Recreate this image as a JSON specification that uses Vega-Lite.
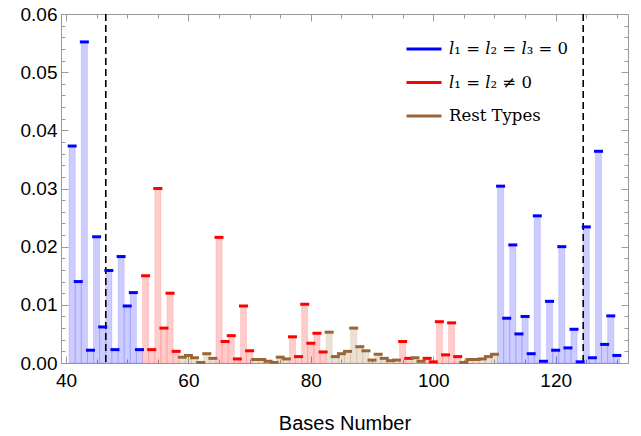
{
  "$schema": "https://vega.github.io/schema/vega-lite/v6.json",
  "width": 567,
  "height": 349,
  "autosize": {"type": "none"},
  "padding": {"left": 61, "top": 14, "right": 13, "bottom": 73},
  "config": {
    "view": {"stroke": "#9a9a9a", "strokeWidth": 1},
    "axis": {
      "labelFont": "Liberation Sans",
      "labelFontSize": 19,
      "labelColor": "#000000",
      "titleFont": "Liberation Sans",
      "titleFontSize": 20,
      "titleFontWeight": "normal",
      "titleColor": "#000000",
      "domainColor": "#9a9a9a",
      "tickColor": "#9a9a9a",
      "grid": false
    }
  },
  "datasets": {
    "density": [
      {"base": 41, "value": 0.0373, "type": "𝑙₁ = 𝑙₂ = 𝑙₃ = 0"},
      {"base": 42, "value": 0.0140, "type": "𝑙₁ = 𝑙₂ = 𝑙₃ = 0"},
      {"base": 43, "value": 0.0552, "type": "𝑙₁ = 𝑙₂ = 𝑙₃ = 0"},
      {"base": 44, "value": 0.0022, "type": "𝑙₁ = 𝑙₂ = 𝑙₃ = 0"},
      {"base": 45, "value": 0.0217, "type": "𝑙₁ = 𝑙₂ = 𝑙₃ = 0"},
      {"base": 46, "value": 0.0062, "type": "𝑙₁ = 𝑙₂ = 𝑙₃ = 0"},
      {"base": 47, "value": 0.0159, "type": "𝑙₁ = 𝑙₂ = 𝑙₃ = 0"},
      {"base": 48, "value": 0.0023, "type": "𝑙₁ = 𝑙₂ = 𝑙₃ = 0"},
      {"base": 49, "value": 0.0183, "type": "𝑙₁ = 𝑙₂ = 𝑙₃ = 0"},
      {"base": 50, "value": 0.0098, "type": "𝑙₁ = 𝑙₂ = 𝑙₃ = 0"},
      {"base": 51, "value": 0.0121, "type": "𝑙₁ = 𝑙₂ = 𝑙₃ = 0"},
      {"base": 52, "value": 0.0023, "type": "𝑙₁ = 𝑙₂ = 𝑙₃ = 0"},
      {"base": 53, "value": 0.0150, "type": "𝑙₁ = 𝑙₂ ≠ 0"},
      {"base": 54, "value": 0.0023, "type": "𝑙₁ = 𝑙₂ ≠ 0"},
      {"base": 55, "value": 0.0300, "type": "𝑙₁ = 𝑙₂ ≠ 0"},
      {"base": 56, "value": 0.0060, "type": "𝑙₁ = 𝑙₂ ≠ 0"},
      {"base": 57, "value": 0.0120, "type": "𝑙₁ = 𝑙₂ ≠ 0"},
      {"base": 58, "value": 0.0020, "type": "𝑙₁ = 𝑙₂ ≠ 0"},
      {"base": 59, "value": 0.0010, "type": "Rest Types"},
      {"base": 60, "value": 0.0013, "type": "Rest Types"},
      {"base": 61, "value": 0.0009, "type": "Rest Types"},
      {"base": 62, "value": 0.0001, "type": "Rest Types"},
      {"base": 63, "value": 0.0016, "type": "Rest Types"},
      {"base": 64, "value": 0.0008, "type": "Rest Types"},
      {"base": 65, "value": 0.0216, "type": "𝑙₁ = 𝑙₂ ≠ 0"},
      {"base": 66, "value": 0.0037, "type": "𝑙₁ = 𝑙₂ ≠ 0"},
      {"base": 67, "value": 0.0047, "type": "𝑙₁ = 𝑙₂ ≠ 0"},
      {"base": 68, "value": 0.0007, "type": "𝑙₁ = 𝑙₂ ≠ 0"},
      {"base": 69, "value": 0.0098, "type": "𝑙₁ = 𝑙₂ ≠ 0"},
      {"base": 70, "value": 0.0021, "type": "𝑙₁ = 𝑙₂ ≠ 0"},
      {"base": 71, "value": 0.0006, "type": "Rest Types"},
      {"base": 72, "value": 0.0006, "type": "Rest Types"},
      {"base": 73, "value": 0.0003, "type": "Rest Types"},
      {"base": 74, "value": 0.0001, "type": "Rest Types"},
      {"base": 75, "value": 0.0010, "type": "Rest Types"},
      {"base": 76, "value": 0.0007, "type": "Rest Types"},
      {"base": 77, "value": 0.0045, "type": "𝑙₁ = 𝑙₂ ≠ 0"},
      {"base": 78, "value": 0.0011, "type": "𝑙₁ = 𝑙₂ ≠ 0"},
      {"base": 79, "value": 0.0101, "type": "𝑙₁ = 𝑙₂ ≠ 0"},
      {"base": 80, "value": 0.0034, "type": "𝑙₁ = 𝑙₂ ≠ 0"},
      {"base": 81, "value": 0.0051, "type": "𝑙₁ = 𝑙₂ ≠ 0"},
      {"base": 82, "value": 0.0019, "type": "𝑙₁ = 𝑙₂ ≠ 0"},
      {"base": 83, "value": 0.0053, "type": "Rest Types"},
      {"base": 84, "value": 0.0011, "type": "Rest Types"},
      {"base": 85, "value": 0.0016, "type": "Rest Types"},
      {"base": 86, "value": 0.0020, "type": "Rest Types"},
      {"base": 87, "value": 0.0060, "type": "Rest Types"},
      {"base": 88, "value": 0.0028, "type": "Rest Types"},
      {"base": 89, "value": 0.0021, "type": "Rest Types"},
      {"base": 90, "value": 0.0005, "type": "Rest Types"},
      {"base": 91, "value": 0.0015, "type": "Rest Types"},
      {"base": 92, "value": 0.0008, "type": "Rest Types"},
      {"base": 93, "value": 0.0004, "type": "Rest Types"},
      {"base": 94, "value": 0.0005, "type": "Rest Types"},
      {"base": 95, "value": 0.0037, "type": "𝑙₁ = 𝑙₂ ≠ 0"},
      {"base": 96, "value": 0.0008, "type": "𝑙₁ = 𝑙₂ ≠ 0"},
      {"base": 97, "value": 0.0009, "type": "Rest Types"},
      {"base": 98, "value": 0.0003, "type": "Rest Types"},
      {"base": 99, "value": 0.0008, "type": "𝑙₁ = 𝑙₂ ≠ 0"},
      {"base": 100, "value": 0.0002, "type": "𝑙₁ = 𝑙₂ ≠ 0"},
      {"base": 101, "value": 0.0071, "type": "𝑙₁ = 𝑙₂ ≠ 0"},
      {"base": 102, "value": 0.0014, "type": "𝑙₁ = 𝑙₂ ≠ 0"},
      {"base": 103, "value": 0.0069, "type": "𝑙₁ = 𝑙₂ ≠ 0"},
      {"base": 104, "value": 0.0011, "type": "𝑙₁ = 𝑙₂ ≠ 0"},
      {"base": 105, "value": 0.0001, "type": "Rest Types"},
      {"base": 106, "value": 0.0006, "type": "Rest Types"},
      {"base": 107, "value": 0.0006, "type": "Rest Types"},
      {"base": 108, "value": 0.0007, "type": "Rest Types"},
      {"base": 109, "value": 0.0011, "type": "Rest Types"},
      {"base": 110, "value": 0.0015, "type": "Rest Types"},
      {"base": 111, "value": 0.0304, "type": "𝑙₁ = 𝑙₂ = 𝑙₃ = 0"},
      {"base": 112, "value": 0.0077, "type": "𝑙₁ = 𝑙₂ = 𝑙₃ = 0"},
      {"base": 113, "value": 0.0203, "type": "𝑙₁ = 𝑙₂ = 𝑙₃ = 0"},
      {"base": 114, "value": 0.0050, "type": "𝑙₁ = 𝑙₂ = 𝑙₃ = 0"},
      {"base": 115, "value": 0.0080, "type": "𝑙₁ = 𝑙₂ = 𝑙₃ = 0"},
      {"base": 116, "value": 0.0016, "type": "𝑙₁ = 𝑙₂ = 𝑙₃ = 0"},
      {"base": 117, "value": 0.0253, "type": "𝑙₁ = 𝑙₂ = 𝑙₃ = 0"},
      {"base": 118, "value": 0.0003, "type": "𝑙₁ = 𝑙₂ = 𝑙₃ = 0"},
      {"base": 119, "value": 0.0106, "type": "𝑙₁ = 𝑙₂ = 𝑙₃ = 0"},
      {"base": 120, "value": 0.0022, "type": "𝑙₁ = 𝑙₂ = 𝑙₃ = 0"},
      {"base": 121, "value": 0.0200, "type": "𝑙₁ = 𝑙₂ = 𝑙₃ = 0"},
      {"base": 122, "value": 0.0026, "type": "𝑙₁ = 𝑙₂ = 𝑙₃ = 0"},
      {"base": 123, "value": 0.0058, "type": "𝑙₁ = 𝑙₂ = 𝑙₃ = 0"},
      {"base": 124, "value": 0.0002, "type": "𝑙₁ = 𝑙₂ = 𝑙₃ = 0"},
      {"base": 125, "value": 0.0234, "type": "𝑙₁ = 𝑙₂ = 𝑙₃ = 0"},
      {"base": 126, "value": 0.0009, "type": "𝑙₁ = 𝑙₂ = 𝑙₃ = 0"},
      {"base": 127, "value": 0.0364, "type": "𝑙₁ = 𝑙₂ = 𝑙₃ = 0"},
      {"base": 128, "value": 0.0032, "type": "𝑙₁ = 𝑙₂ = 𝑙₃ = 0"},
      {"base": 129, "value": 0.0081, "type": "𝑙₁ = 𝑙₂ = 𝑙₃ = 0"},
      {"base": 130, "value": 0.0013, "type": "𝑙₁ = 𝑙₂ = 𝑙₃ = 0"}
    ],
    "cuts": [{"cut": 46.5}, {"cut": 124.5}]
  },
  "resolve": {"axis": {"x": "independent", "y": "independent"}},
  "layer": [
    {
      "data": {"name": "density"},
      "mark": {"type": "bar", "width": 6.23, "fillOpacity": 0.2, "strokeOpacity": 0.18, "strokeWidth": 0.6},
      "encoding": {
        "x": {
          "field": "base", "type": "quantitative",
          "scale": {"domain": [40, 131], "nice": false, "zero": false},
          "axis": {
            "orient": "bottom",
            "title": "Bases Number",
            "titlePadding": 20,
            "values": [40, 45, 50, 55, 60, 65, 70, 75, 80, 85, 90, 95, 100, 105, 110, 115, 120, 125, 130],
            "labelExpr": "datum.value % 20 === 0 ? datum.label : ''",
            "labelPadding": 15,
            "labelFlush": false,
            "labelOverlap": false,
            "tickSize": {"condition": {"test": "datum.value % 20 === 0", "value": -7}, "value": -4}
          }
        },
        "y": {
          "field": "value", "type": "quantitative",
          "scale": {"domain": [0, 0.06], "nice": false},
          "axis": {
            "orient": "left",
            "title": null,
            "values": [0, 0.002, 0.004, 0.006, 0.008, 0.01, 0.012, 0.014, 0.016, 0.018, 0.02, 0.022, 0.024, 0.026, 0.028, 0.03, 0.032, 0.034, 0.036, 0.038, 0.04, 0.042, 0.044, 0.046, 0.048, 0.05, 0.052, 0.054, 0.056, 0.058, 0.06],
            "labelExpr": "abs(datum.value * 100 - round(datum.value * 100)) < 1e-6 ? format(datum.value, '.2f') : ''",
            "labelPadding": 11,
            "labelFlush": false,
            "labelOverlap": false,
            "tickSize": {"condition": {"test": "abs(datum.value * 100 - round(datum.value * 100)) < 1e-6", "value": -7}, "value": -4}
          }
        },
        "color": {
          "field": "type", "type": "nominal",
          "scale": {"domain": ["𝑙₁ = 𝑙₂ = 𝑙₃ = 0", "𝑙₁ = 𝑙₂ ≠ 0", "Rest Types"], "range": ["#0000ff", "#ff0000", "#996633"]},
          "legend": {
            "title": null,
            "orient": "none",
            "legendX": 344,
            "legendY": 16,
            "symbolType": "stroke",
            "symbolSize": 1225,
            "symbolStrokeWidth": 3,
            "symbolOpacity": 1,
            "labelFont": "DejaVu Serif",
            "labelFontSize": 16.5,
            "labelColor": "#000000",
            "labelOffset": 6,
            "rowPadding": 5.5,
            "labelLimit": 300
          }
        },
        "stroke": {
          "field": "type", "type": "nominal",
          "scale": {"domain": ["𝑙₁ = 𝑙₂ = 𝑙₃ = 0", "𝑙₁ = 𝑙₂ ≠ 0", "Rest Types"], "range": ["#0000ff", "#ff0000", "#996633"]},
          "legend": null
        }
      }
    },
    {
      "data": {"name": "cuts"},
      "mark": {"type": "rule", "color": "#000000", "strokeWidth": 1.6, "strokeDash": [7, 4]},
      "encoding": {
        "x": {"field": "cut", "type": "quantitative", "axis": null}
      }
    },
    {
      "data": {"name": "density"},
      "mark": {"type": "tick", "orient": "horizontal", "size": 9, "thickness": 3, "opacity": 1},
      "encoding": {
        "x": {
          "field": "base", "type": "quantitative",
          "axis": {
            "orient": "top", "title": null, "labels": false,
            "values": [40, 45, 50, 55, 60, 65, 70, 75, 80, 85, 90, 95, 100, 105, 110, 115, 120, 125, 130],
            "tickSize": {"condition": {"test": "datum.value % 20 === 0", "value": -7}, "value": -4}
          }
        },
        "y": {
          "field": "value", "type": "quantitative",
          "axis": {
            "orient": "right", "title": null, "labels": false,
            "values": [0, 0.002, 0.004, 0.006, 0.008, 0.01, 0.012, 0.014, 0.016, 0.018, 0.02, 0.022, 0.024, 0.026, 0.028, 0.03, 0.032, 0.034, 0.036, 0.038, 0.04, 0.042, 0.044, 0.046, 0.048, 0.05, 0.052, 0.054, 0.056, 0.058, 0.06],
            "tickSize": {"condition": {"test": "abs(datum.value * 100 - round(datum.value * 100)) < 1e-6", "value": -7}, "value": -4}
          }
        },
        "color": {"field": "type", "type": "nominal"}
      }
    }
  ]
}
